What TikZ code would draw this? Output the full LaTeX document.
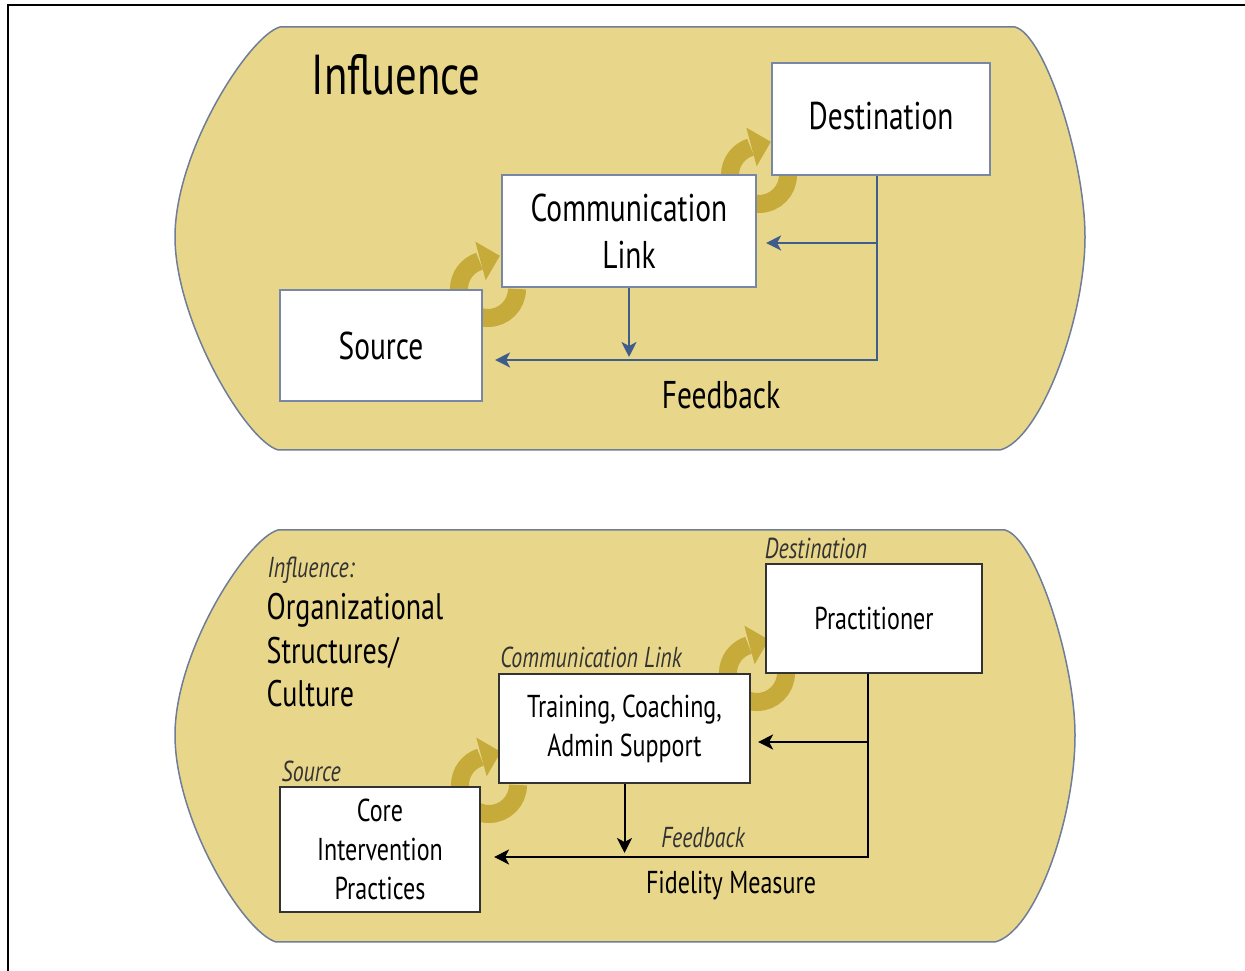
\documentclass[tikz,border=0pt]{standalone}
\usepackage{fontspec}
\setmainfont{PT Sans}[FakeStretch=0.76]
\usetikzlibrary{arrows.meta,calc}

\definecolor{panelfill}{RGB}{232,215,138}
\definecolor{panelline}{RGB}{110,125,152}
\definecolor{goldarrow}{RGB}{198,170,58}
\definecolor{fbblue}{RGB}{62,92,140}
\definecolor{boxblue}{RGB}{120,135,165}

\tikzset{
  panel/.style={fill=panelfill, draw=panelline, line width=0.015cm},
  topbox/.style={draw=boxblue, fill=white, line width=0.02cm, inner sep=0pt, align=center,
    font=\fontsize{11}{13.4}\selectfont},
  lowbox/.style={draw=black!80, fill=white, line width=0.02cm, inner sep=0pt, align=center,
    font=\fontsize{9}{11.1}\selectfont},
  turnarrow/.style={draw=goldarrow, line width=0.18cm},
  bluefb/.style={draw=fbblue, line width=0.02cm, -{Stealth[length=0.15cm,width=0.15cm,inset=0.04cm]}},
  blackfb/.style={draw=black, line width=0.02cm, -{Stealth[length=0.15cm,width=0.15cm,inset=0.04cm]}},
  tag/.style={font=\fontsize{8.2}{9}\selectfont\itshape, text=black!80, inner sep=0pt}
}

\begin{document}
\begin{tikzpicture}[x=0.01cm, y=-0.01cm]
\useasboundingbox (0,0) rectangle (1245,971);

% frame
\draw[line width=0.02cm] (8,971) -- (8,5) -- (1245,5);

% panels
\draw[panel] (280,27) -- (1015,27) .. controls (1045,35) and (1085,160) .. (1085,237)
  .. controls (1085,320) and (1040,440) .. (1000,450) -- (278,450)
  .. controls (245,440) and (175,320) .. (175,237) .. controls (175,150) and (250,35) .. cycle;
\draw[panel] (278,530) -- (1005,530) .. controls (1035,538) and (1075,660) .. (1075,735)
  .. controls (1075,820) and (1035,932) .. (995,942) -- (276,942)
  .. controls (243,932) and (175,820) .. (175,735) .. controls (175,650) and (248,538) .. cycle;

% turning arrows (behind the boxes)
\coordinate (t1) at (488,289);
\coordinate (t2) at (759,175);
\coordinate (t3) at (489,785);
\coordinate (t4) at (757,673);
\foreach \c in {t1,t2,t3,t4}{
  \draw[turnarrow] ($(\c)+(0.29cm,0)$) arc[start angle=0, end angle=-253, radius=0.29cm];
  \fill[goldarrow] ($(\c)+(105:0.29cm)+(105:0.2cm)$) -- ($(\c)+(105:0.29cm)+(15:0.2cm)$)
    -- ($(\c)+(105:0.29cm)+(285:0.2cm)$) -- cycle;
}

% top: the model
\node[anchor=west, font=\fontsize{16}{19}\selectfont, inner sep=0pt] (infl) at (311,75) {Influence};
\node[topbox, minimum width=2.18cm, minimum height=1.12cm] (dest) at (881,119) {\raisebox{0.06cm}{Destination}};
\node[topbox, minimum width=2.54cm, minimum height=1.12cm] (comm) at (629,231) {Communication\\Link};
\node[topbox, minimum width=2.02cm, minimum height=1.11cm] (src) at (381,345.5) {Source};
\node[font=\fontsize{11}{13}\selectfont, inner sep=0pt] (fbtop) at (721,395) {Feedback};

\coordinate (f1) at (877,360);
\coordinate (f2) at (877,243);
\draw[bluefb, shorten >=0.12cm] (dest.south -| f1) |- (src.east |- f1);
\draw[bluefb, shorten >=0.09cm] (f2) -- (comm.east |- f2);
\draw[bluefb, shorten >=0.03cm] (comm.south) -- (comm.south |- f1);

% bottom: the example
\node[tag, anchor=west] (tinfl) at (267,570) {Influence:};
\node[anchor=north west, align=left, inner sep=0pt, font=\fontsize{10.5}{12.3}\selectfont] (org) at (266,593)
  {Organizational\\Structures/\\Culture};
\node[lowbox, minimum width=2.16cm, minimum height=1.09cm] (prac) at (874,618.5) {Practitioner};
\node[lowbox, minimum width=2.51cm, minimum height=1.09cm] (train) at (624.5,728.5) {Training, Coaching,\\Admin Support};
\node[lowbox, minimum width=2.00cm, minimum height=1.25cm] (core) at (380,849.5) {Core\\Intervention\\Practices};
\node[tag] (tdest) at (816,548) {Destination};
\node[tag] (tcomm) at (591,657) {Communication Link};
\node[tag, anchor=west] (tsrc) at (281,771) {Source};
\node[tag] (tfb) at (703,838) {Feedback};
\node[font=\fontsize{9}{11}\selectfont, inner sep=0pt] (fid) at (731,886) {Fidelity Measure};

\coordinate (g1) at (868,857);
\coordinate (g2) at (868,742);
\draw[blackfb, shorten >=0.13cm] (prac.south -| g1) |- (core.east |- g1);
\draw[blackfb, shorten >=0.07cm] (g2) -- (train.east |- g2);
\draw[blackfb, shorten >=0.04cm] (train.south) -- (train.south |- g1);
\end{tikzpicture}
\end{document}
